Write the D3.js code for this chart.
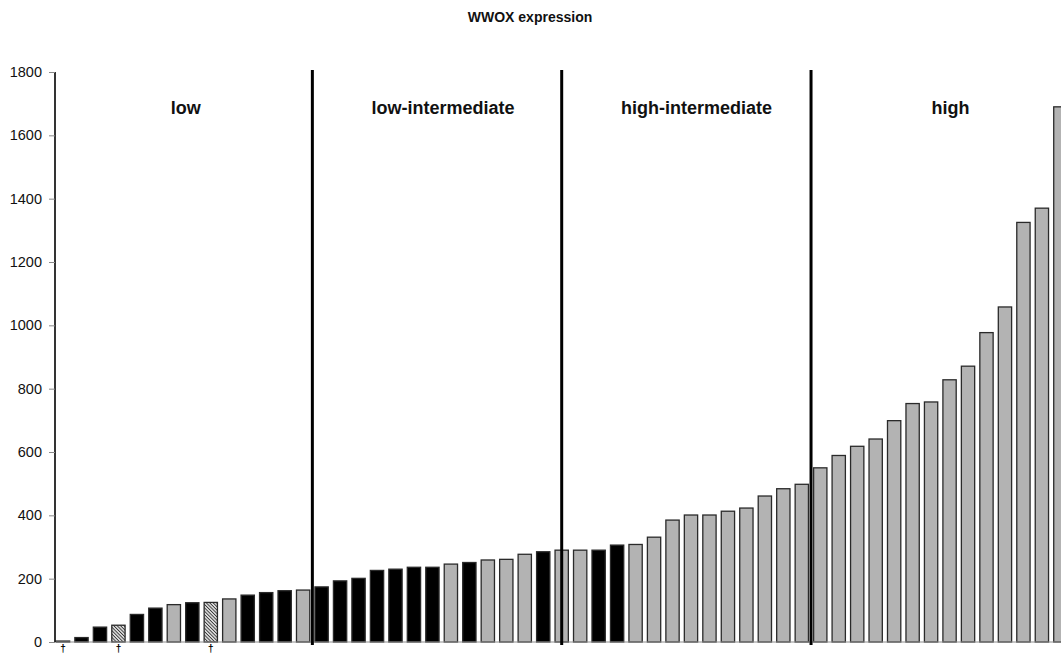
<!DOCTYPE html>
<html>
<head>
<meta charset="utf-8">
<script src="https://cdn.jsdelivr.net/npm/d3@7"></script>
<style>
  html, body { margin: 0; padding: 0; background: #fff; }
  svg { display: block; font-family: "Liberation Sans", Arial, sans-serif; }
</style>
</head>
<body>
<svg id="chart" width="1061" height="655"></svg>
<script>
// ---- data ----
const samples = d3.range(1, 56);
const values = [3,14,47,53,87,107,118,124,125,136,148,156,162,164,174,193,201,226,230,236,236,246,251,259,261,277,285,290,290,290,306,308,331,385,401,401,413,423,461,484,498,550,589,618,641,699,753,758,828,871,977,1058,1325,1370,1690];
// B = black, G = gray, H = hatched
const kinds = ["B","B","B","H","B","B","G","B","H","G","B","B","B","G","B","B","B","B","B","B","B","G","B","G","G","G","B","G","G","B","B","G","G","G","G","G","G","G","G","G","G","G","G","G","G","G","G","G","G","G","G","G","G","G","G"];
const groupLabels = ["low","low-intermediate","high-intermediate","high"];
const dividerPositions = [13.5, 27, 40.5];     // in bar-index units
const groupLabelCenters = [6.65, 20.57, 34.3, 48.05];
const markedSamples = [1, 4, 9];
const yTicks = [0,200,400,600,800,1000,1200,1400,1600,1800];
const title = "WWOX expression";

// ---- layout ----
const W = 1061, H = 655;
const svg = d3.select("#chart");
const x = d3.scaleBand().domain(samples).range([53.8, 1069.6]).paddingInner(0.28).paddingOuter(0.14);
const y = d3.scaleLinear().domain([0, 1800]).range([642, 72]);
const idxX = i => x(samples[0]) + x.bandwidth() / 2 + i * x.step();

const defs = svg.append("defs");
const pat = defs.append("pattern").attr("id", "hatch").attr("patternUnits", "userSpaceOnUse")
  .attr("width", 2.4).attr("height", 2.4).attr("patternTransform", "rotate(-45)");
pat.append("rect").attr("width", 2.4).attr("height", 2.4).attr("fill", "#d8d8d8");
pat.append("line").attr("x1", 0).attr("y1", 0).attr("x2", 0).attr("y2", 2.4)
  .attr("stroke", "#1a1a1a").attr("stroke-width", 1.4);

const fillFor = k => k === "B" ? "#000" : (k === "G" ? "#b3b3b3" : "url(#hatch)");

// title
svg.append("text").attr("x", 530).attr("y", 22).attr("text-anchor", "middle")
  .attr("font-size", 14).attr("font-weight", "bold").attr("fill", "#111").text(title);

// bars
svg.append("g").selectAll("rect").data(samples).join("rect")
  .attr("x", d => x(d))
  .attr("y", (d, i) => y(values[i]))
  .attr("width", x.bandwidth())
  .attr("height", (d, i) => y(0) - y(values[i]))
  .attr("fill", (d, i) => fillFor(kinds[i]))
  .attr("stroke", "#2a2a2a")
  .attr("stroke-width", 1.3);

// x baseline
svg.append("line").attr("x1", 55).attr("x2", W).attr("y1", y(0)).attr("y2", y(0))
  .attr("stroke", "#8c8c8c").attr("stroke-width", 1);

// y axis
const yAxis = d3.axisLeft(y).tickValues(yTicks).tickSize(6).tickPadding(7).tickFormat(d3.format("d"));
const ga = svg.append("g").attr("transform", "translate(55,0)").call(yAxis);
ga.select(".domain").attr("stroke", "#000").attr("stroke-width", 1.6).attr("d", `M0,${y(1800)}V${y(0)}`);
ga.selectAll(".tick line").attr("stroke", "#888");
ga.selectAll(".tick text").attr("font-size", 14.5).attr("fill", "#111")
  .attr("font-family", "'Liberation Sans', Arial, sans-serif");

// dividers
svg.append("g").selectAll("line").data(dividerPositions).join("line")
  .attr("x1", d => idxX(d)).attr("x2", d => idxX(d))
  .attr("y1", 70).attr("y2", 645)
  .attr("stroke", "#000").attr("stroke-width", 3);

// group labels
svg.append("g").selectAll("text").data(groupLabels).join("text")
  .attr("x", (d, i) => idxX(groupLabelCenters[i]))
  .attr("y", 114)
  .attr("text-anchor", "middle").attr("font-size", 18).attr("font-weight", "bold").attr("fill", "#111")
  .text(d => d);

// markers
svg.append("g").selectAll("text").data(markedSamples).join("text")
  .attr("x", d => x(d) + x.bandwidth() / 2)
  .attr("y", 652)
  .attr("text-anchor", "middle").attr("font-size", 10).attr("font-weight", "bold").attr("fill", "#000")
  .text("†");
</script>
</body>
</html>
